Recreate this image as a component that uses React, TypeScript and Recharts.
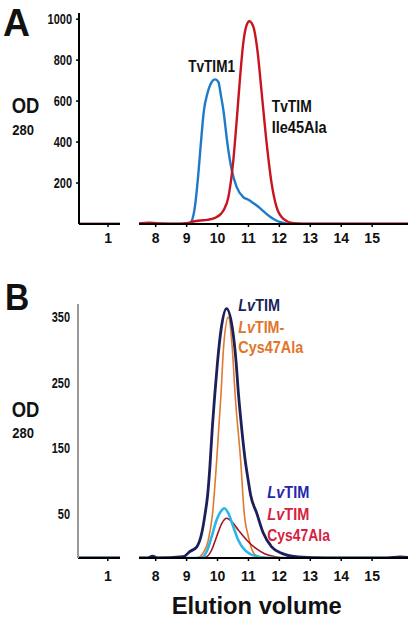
import React from 'react';
import { LineChart, Line, XAxis, YAxis } from 'recharts';

// ---- axes ----
const earlyTicks = [1];
const lateTicks = [8, 9, 10, 11, 12, 13, 14, 15];
const earlyDomain: [number, number] = [0.05, 1.39];
const lateDomain: [number, number] = [7.46, 16.16];

const aYTicks = [200, 400, 600, 800, 1000];
const aYDomain: [number, number] = [0, 1030];
const bYTicks = [50, 150, 250, 350];
const bYDomain: [number, number] = [-17, 370];

// ---- Panel A: TvTIM1 ----
const tvTim1Volume = [0.05, 1.39, 7.46, 8.5, 9.0, 9.11, 9.25, 9.37, 9.46, 9.56, 9.67, 9.81, 9.92, 10.03, 10.1, 10.19, 10.32, 10.46, 10.62, 10.83, 11.0, 11.15, 11.32, 11.5, 11.7, 11.9, 12.1, 12.35, 13.0, 16.16];
const tvTim1OD = [0, 0, 0, 0, 0, 4, 66, 229, 392, 555, 636, 693, 706, 693, 636, 555, 392, 262, 180, 131, 118, 103, 84, 60, 35, 17, 6, 0, 0, 0];

// ---- Panel A: TvTIM Ile45Ala ----
const ile45Volume = [0.05, 1.39, 7.46, 7.8, 8.2, 8.8, 9.0, 9.22, 9.45, 9.65, 9.92, 10.1, 10.19, 10.35, 10.51, 10.62, 10.73, 10.83, 10.94, 11.03, 11.16, 11.29, 11.43, 11.59, 11.75, 11.91, 12.13, 12.45, 13.0, 16.16];
const ile45OD = [0, 0, 3, 6, 3, 2, 4, 12, 17, 20, 30, 48, 66, 131, 310, 506, 718, 881, 971, 990, 962, 848, 637, 392, 197, 82, 25, 4, 1, 1];

// ---- Panel B: LvTIM (navy) ----
const lvTimVolume = [0.05, 1.39, 7.46, 7.75, 7.9, 8.05, 8.89, 9.11, 9.33, 9.49, 9.6, 9.68, 9.75, 9.83, 9.91, 10.0, 10.12, 10.29, 10.48, 10.6, 10.68, 10.78, 10.9, 10.99, 11.07, 11.27, 11.48, 11.75, 12.08, 12.61, 13.5, 15.5, 15.9, 16.16];
const lvTimOD = [-17, -17, -17, -17, -14, -17, -15, -7, 0, 21, 51, 79, 120, 181, 231, 282, 333, 363, 333, 282, 231, 181, 130, 102, 79, 51, 21, 0, -10, -15.5, -17, -17, -15.5, -16];

// ---- Panel B: LvTIM-Cys47Ala (orange) ----
const cys47Volume = [0.05, 1.39, 7.46, 9.35, 9.49, 9.7, 9.84, 9.97, 10.11, 10.2, 10.35, 10.47, 10.57, 10.75, 10.86, 11.0, 11.21, 11.43, 11.7, 16.16];
const cys47OD = [-17, -17, -17, -17, -12, 10, 51, 130, 231, 307, 350, 307, 231, 130, 53, 15, -12, -16, -17, -17];

// ---- Panel B: LvTIM low (cyan) ----
const lvTimLowVolume = [0.05, 1.39, 7.46, 9.3, 9.49, 9.65, 9.81, 9.97, 10.14, 10.22, 10.35, 10.51, 10.67, 10.83, 11.05, 11.32, 11.64, 12.0, 16.16];
const lvTimLowOD = [-17, -17, -17, -17, -16, -7, 15.5, 41, 56, 58.7, 51, 30.7, 10.4, -2.2, -10.9, -15, -16.8, -17, -17];

// ---- Panel B: LvTIM Cys47Ala low (dark red) ----
const cys47LowVolume = [0.05, 1.39, 7.46, 9.5, 9.65, 9.81, 9.97, 10.14, 10.3, 10.46, 10.67, 10.94, 11.21, 11.54, 11.86, 12.18, 12.5, 16.16];
const cys47LowOD = [-17, -17, -17, -17, -15, -4.8, 15.5, 35.9, 43.5, 38.3, 25.7, 10.4, -1.3, -10.9, -15, -16.8, -17, -17];

type Pt = { v: number; od: number };
const toPoints = (vol: number[], od: number[]): Pt[] => vol.map((v, i) => ({ v, od: od[i] }));
const within = (pts: Pt[], d: [number, number]) => pts.filter((p) => p.v >= d[0] - 1e-6 && p.v <= d[1] + 1e-6);

type Series = { name: string; points: Pt[]; color: string; width: number };

const panelA: Series[] = [
  { name: 'TvTIM1', points: toPoints(tvTim1Volume, tvTim1OD), color: '#1f7ac8', width: 2.4 },
  { name: 'TvTIM Ile45Ala', points: toPoints(ile45Volume, ile45OD), color: '#c8141f', width: 2.4 },
];
const panelB: Series[] = [
  { name: 'LvTIM-Cys47Ala', points: toPoints(cys47Volume, cys47OD), color: '#e07a2e', width: 1.6 },
  { name: 'LvTIM Cys47Ala low', points: toPoints(cys47LowVolume, cys47LowOD), color: '#a3161f', width: 1.6 },
  { name: 'LvTIM low', points: toPoints(lvTimLowVolume, lvTimLowOD), color: '#2bb5e8', width: 2.6 },
  { name: 'LvTIM', points: toPoints(lvTimVolume, lvTimOD), color: '#1b1f5a', width: 2.8 },
];

const FONT = "'Liberation Sans', Arial, Helvetica, sans-serif";
let ctx: CanvasRenderingContext2D | null = null;
const measure = (s: string, size: number, bold: boolean, italic: boolean) => {
  if (!ctx) ctx = document.createElement('canvas').getContext('2d');
  if (!ctx) return s.length * size * 0.55;
  ctx.font = `${italic ? 'italic ' : ''}${bold ? 'bold ' : ''}${size}px ${FONT}`;
  return ctx.measureText(s).width;
};

// parts: [text, italic][]
const Label = ({ x, y, size, w, color = '#111', bold = true, parts, anchor = 'start' }: any) => {
  const natural = parts.reduce((acc: number, [s, it]: [string, boolean]) => acc + measure(s, size, bold, it), 0);
  const sx = w / natural;
  return (
    <text transform={`translate(${x},${y}) scale(${sx},1)`} x={0} y={0} fontSize={size} textAnchor={anchor}
      fontWeight={bold ? 'bold' : 'normal'} fill={color} fontFamily={FONT}>
      {parts.map(([s, it]: [string, boolean], i: number) => (
        <tspan key={i} fontStyle={it ? 'italic' : 'normal'}>{s}</tspan>
      ))}
    </text>
  );
};

const YTick = (props: any) => {
  const { x, y, payload } = props;
  const s = String(payload.value);
  return <Label x={x} y={y + 5} size={14} w={s.length * 6.1} parts={[[s, false]]} anchor="end" />;
};

type SegProps = {
  left: number; top: number; width: number; height: number;
  xDomain: [number, number]; xTicks: number[];
  yDomain: [number, number]; yTicks: number[];
  showY: boolean; yWidth: number; yColor: string; yTickSize: number; yTickMargin: number;
  xAxisHeight: number; xTickMargin: number; series: Series[];
};

const Segment = (p: SegProps) => (
  <div style={{ position: 'absolute', left: p.left, top: p.top }}>
    <LineChart width={p.width} height={p.height} margin={{ top: 13, right: 0, bottom: 0, left: 0 }}>
      <XAxis dataKey="v" type="number" domain={p.xDomain} ticks={p.xTicks} allowDataOverflow
        height={p.xAxisHeight} tickSize={3} tickMargin={p.xTickMargin}
        axisLine={{ stroke: '#000', strokeWidth: 2 }} tickLine={{ stroke: '#000', strokeWidth: 1.5 }}
        tick={{ fontSize: 14, fontWeight: 'bold', fill: '#111' }} />
      {p.showY ? (
        <YAxis type="number" domain={p.yDomain} ticks={p.yTicks} allowDataOverflow width={p.yWidth}
          tickSize={p.yTickSize} tickMargin={p.yTickMargin}
          axisLine={{ stroke: p.yColor, strokeWidth: 2 }} tickLine={p.yTickSize > 0 ? { stroke: p.yColor, strokeWidth: 1.5 } : false}
          tick={<YTick />} />
      ) : (
        <YAxis hide type="number" domain={p.yDomain} allowDataOverflow />
      )}
      {p.series.map((s) => (
        <Line key={s.name} name={s.name} data={within(s.points, p.xDomain)} dataKey="od" type="monotone"
          stroke={s.color} strokeWidth={s.width} dot={false} activeDot={false} isAnimationActive={false} />
      ))}
    </LineChart>
  </div>
);

export default function App() {
  return (
    <div style={{ position: 'absolute', left: 0, top: 0, width: 413, height: 619, background: '#fff', fontFamily: FONT, overflow: 'hidden' }}>
      {/* Panel A */}
      <Segment left={0} top={0} width={120} height={260} xDomain={earlyDomain} xTicks={earlyTicks}
        yDomain={aYDomain} yTicks={aYTicks} showY yWidth={79} yColor="#000" yTickSize={3} yTickMargin={4}
        xAxisHeight={36} xTickMargin={6} series={panelA} />
      <Segment left={139} top={0} width={269} height={260} xDomain={lateDomain} xTicks={lateTicks}
        yDomain={aYDomain} yTicks={aYTicks} showY={false} yWidth={0} yColor="#000" yTickSize={0} yTickMargin={0}
        xAxisHeight={36} xTickMargin={6} series={panelA} />
      {/* Panel B */}
      <Segment left={0} top={291} width={120} height={297} xDomain={earlyDomain} xTicks={earlyTicks}
        yDomain={bYDomain} yTicks={bYTicks} showY yWidth={78} yColor="#9a9a9a" yTickSize={0} yTickMargin={8}
        xAxisHeight={30} xTickMargin={10} series={panelB} />
      <Segment left={139} top={291} width={269} height={297} xDomain={lateDomain} xTicks={lateTicks}
        yDomain={bYDomain} yTicks={bYTicks} showY={false} yWidth={0} yColor="#000" yTickSize={0} yTickMargin={0}
        xAxisHeight={30} xTickMargin={10} series={panelB} />

      <svg width={413} height={619} style={{ position: 'absolute', left: 0, top: 0, pointerEvents: 'none' }}>
        {/* Panel A labels */}
        <Label x={3} y={36} size={39} w={27} parts={[['A', false]]} />
        <Label x={11.7} y={113.3} size={22} w={27.6} parts={[['OD', false]]} />
        <Label x={12.3} y={135} size={15.5} w={21.7} parts={[['280', false]]} />
        <Label x={188.3} y={71.7} size={16} w={46.7} parts={[['TvTIM1', false]]} />
        <Label x={271.7} y={111.7} size={16} w={40} parts={[['TvTIM', false]]} />
        <Label x={271.7} y={133.3} size={16} w={55} parts={[['Ile45Ala', false]]} />

        {/* Panel B labels */}
        <Label x={5} y={310} size={37} w={24.3} parts={[['B', false]]} />
        <Label x={11.7} y={416.7} size={22} w={27.6} parts={[['OD', false]]} />
        <Label x={12.3} y={438.3} size={15.5} w={21.7} parts={[['280', false]]} />
        <Label x={238.3} y={311} size={16.5} w={41.7} color="#1b1f5a" parts={[['Lv', true], ['TIM', false]]} />
        <Label x={238.3} y={332.7} size={16.5} w={46} color="#e0752c" parts={[['Lv', true], ['TIM-', false]]} />
        <Label x={238.3} y={353} size={16.5} w={65} color="#e0752c" parts={[['Cys47Ala', false]]} />
        <Label x={267.3} y={498.3} size={16.5} w={42} color="#2424b0" parts={[['Lv', true], ['TIM', false]]} />
        <Label x={267.3} y={520} size={16.5} w={42} color="#d6223f" parts={[['Lv', true], ['TIM', false]]} />
        <Label x={267.3} y={540.5} size={16.5} w={62.7} color="#d6223f" parts={[['Cys47Ala', false]]} />
        <Label x={171.7} y={613.5} size={24} w={170} parts={[['Elution volume', false]]} />
      </svg>
    </div>
  );
}
